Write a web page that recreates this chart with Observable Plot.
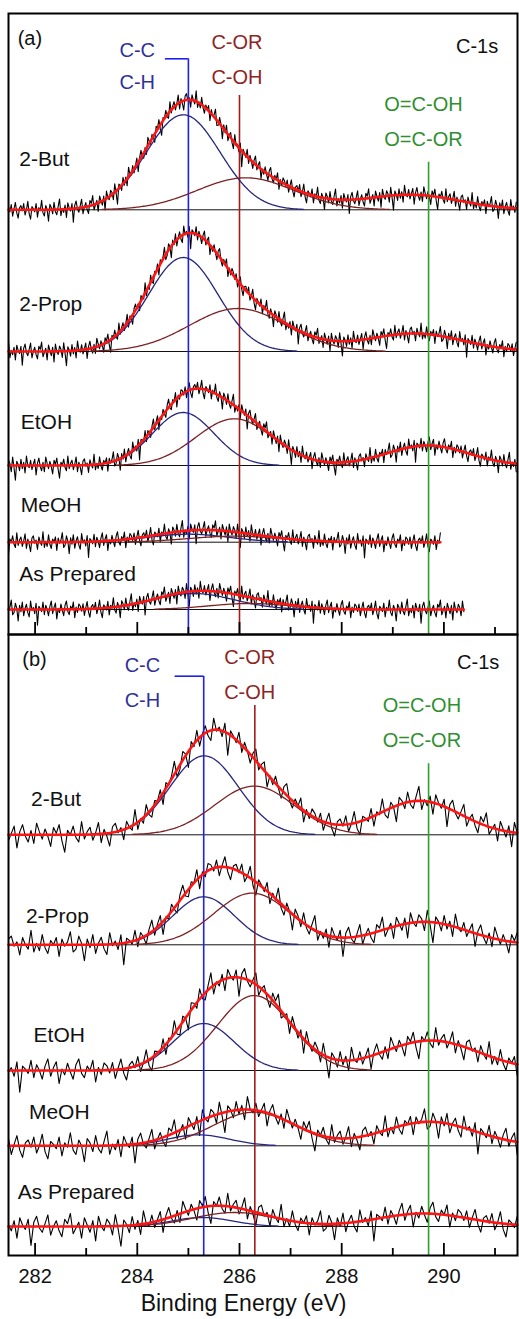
<!DOCTYPE html>
<html><head><meta charset="utf-8">
<script src="https://cdn.jsdelivr.net/npm/d3@7"></script>
<script src="https://cdn.jsdelivr.net/npm/@observablehq/plot@0.6"></script>
<style>
html,body{margin:0;padding:0;background:#fff;}
#chart svg{display:block;}
</style></head><body><div id="chart"></div>
<script>
// ---------------- data ----------------
const panels = ["a", "b"];
const samples = ["2-But", "2-Prop", "EtOH", "MeOH", "As Prepared"];
// fitted components: [centre (eV), height, sigma (eV)]
const ccA   = [[284.9, 95, 0.72], [284.9, 94, 0.68], [284.9, 53, 0.60], [285.0, 8, 0.80], [285.1, 16, 0.80]];
const corA  = [[286.12, 32, 0.95], [285.97, 43, 0.95], [285.9, 46.7, 0.75], [285.9, 6, 0.9], [286.2, 6, 0.8]];
const coohA = [[289.35, 15, 0.95], [289.42, 18, 0.95], [289.68, 20, 0.8], null, null];
const ccB   = [[285.31, 79, 0.67], [285.3, 48, 0.6], [285.3, 47, 0.6], [285.2, 11, 0.6], [285.27, 9, 0.6]];
const corB  = [[286.29, 48.7, 0.78], [286.25, 51.7, 0.75], [286.29, 75, 0.72], [286.29, 33.6, 0.8], [285.9, 14, 0.8]];
const coohB = [[289.52, 34, 0.8], [289.61, 23, 0.85], [289.74, 30, 0.95], [289.71, 24, 0.9], [289.6, 13, 0.9]];
const scanEndA = [291.44, 291.44, 291.44, 289.95, 290.4];
const scanEndB = [291.44, 291.44, 291.44, 291.44, 291.44];
// reference peak positions (eV): C-C/C-H, C-OR/C-OH, O=C-OH/O=C-OR
const refA = [285.0, 286.0, 289.7];
const refB = [285.3, 286.3, 289.7];
const groupNames = [["C-C", "C-H"], ["C-OR", "C-OH"], ["O=C-OH", "O=C-OR"]];
const panelTags = ["(a)", "(b)"];
const coreLevel = "C-1s";
// measurement scatter about the fit (counts, hand read)
const residuals = [
  3,-2,5,-6,1,7,-3,-8,2,4,-1,6,-5,0,8,-4,-9,3,1,-2,
  6,-7,2,-1,9,-3,-6,4,0,-11,5,2,-4,7,-2,-5,3,10,-6,1,
  -3,4,-8,6,1,-2,5,-13,3,7,-1,-4,2,8,-6,0,4,-3,-7,5,
  2,9,-5,-1,3,-8,6,1,-4,4,-10,7,0,-3,5,2,-6,8,-2,-14,
  4,1,-5,6,-3,3,-7,9,0,-2,5,-4,1,6,-9,2,7,-1,-5,3,
  -6,8,2,-3,4,-1,-8,5,1,7,-4,-12,3,0,6,-2,-5,9,-3,2,
  5,-4,1,8,-6,3,-2,-9,4,6,-1,2,-7,5,0,-3,10,-5,1,-4,
  7,-2,-6,3,0,5,-8,4,-1,2,9,-5,-3,6,1,-11,4,-2,7,-6,
  1,5,-3,-7,8,-1,2,-4,6,-15,3,1,-2,7,-5,4,0,-6,3,8,
  -4,2,6,-9,1,-3,5,-1,-6,4,8,-2,-5,3,0,7,-8,2,-3,5
];
const majorTicks = [282, 284, 286, 288, 290];
const minorTicks = [283, 285, 287, 289, 291];
const xLabel = "Binding Energy (eV)";

// ---------------- layout / style ----------------
const xDomain = [281.48, 291.44];
const layout = {
  a: {offsets: [424.7, 283, 169, 92.3, 25], lineTop: [575.7, 539, 472.3], bracketLeft: 284.55,
      tag: [281.66, 596], sampleX: [281.69, 281.69, 281.72, 281.72, 281.69], sampleY: [475, 330.7, 212.3, 129, 60.7],
      groupX: [284.0, 285.95, 289.6], groupY: [[584, 552.3], [592.3, 557.3], [530, 494.7]], core: [290.65, 588.3]},
  b: {offsets: [420.7, 310.7, 185, 109.7, 29], lineTop: [579.3, 550, 491.7], bracketLeft: 284.74,
      tag: [281.75, 595.7], sampleX: [281.92, 281.82, 281.97, 281.88, 281.66], sampleY: [456.7, 339, 220, 143.3, 63.3],
      groupX: [284.1, 286.2, 289.57], groupY: [[590, 555], [598.3, 563.3], [550, 515]], core: [290.67, 593.3]}
};
const refColors = ["#1f1ff0", "#a31c1c", "#2ea02e"];
const labelColors = ["#30309a", "#8e2424", "#2f8f2f"];
const compColors = {cc: "#26267f", cor: "#7d2222"};
const step = {a: 0.027, b: 0.055};
const noiseScale = {a: 1.05, b: 1.45};
const font = "'Liberation Sans', Arial, Helvetica, sans-serif";

// ---------------- build rows ----------------
const gauss = (E, p) => p ? p[1] * Math.exp(-((E - p[0]) ** 2) / (2 * p[2] * p[2])) : 0;
const comps = {a: [ccA, corA, coohA], b: [ccB, corB, coohB]};
const ends = {a: scanEndA, b: scanEndB};
const refs = {a: refA, b: refB};
const scan = [], fit = [], parts = [], base = [];
for (const p of panels) {
  samples.forEach((s, k) => {
    const off = layout[p].offsets[k];
    const [cc, cor, cooh] = comps[p].map(arr => arr[k]);
    const xs = d3.range(xDomain[0], ends[p][k] + 1e-9, step[p]);
    xs.forEach((E, i) => {
      const f = gauss(E, cc) + gauss(E, cor) + gauss(E, cooh);
      const r = residuals[(i + k * 37 + (p === "b" ? 91 : 0)) % residuals.length];
      scan.push({panel: p, key: p + k, E, y: off + f + noiseScale[p] * r});
      fit.push({panel: p, key: p + k, E, y: off + f});
      [["cc", cc], ["cor", cor]].forEach(([name, c]) => {
        const v = gauss(E, c);
        if (c && v > 0.4) parts.push({panel: p, key: p + k + name, comp: name, E, y: off + v});
      });
    });
    base.push({panel: p, y: off, x1: xDomain[0], x2: ends[p][k]});
  });
}
const refRows = panels.flatMap(p => refs[p].map((E, j) => ({panel: p, E, top: layout[p].lineTop[j], color: refColors[j]})));
const bracketRows = panels.map(p => ({panel: p, y: layout[p].lineTop[0], x1: layout[p].bracketLeft, x2: refs[p][0]}));
const startTexts = [], midTexts = [], sampleTexts = [];
panels.forEach((p, pi) => {
  const L = layout[p];
  startTexts.push({panel: p, x: L.tag[0], y: L.tag[1], text: panelTags[pi], color: "#111"});
  midTexts.push({panel: p, x: L.core[0], y: L.core[1], text: coreLevel, color: "#111"});
  samples.forEach((s, k) => sampleTexts.push({panel: p, x: L.sampleX[k], y: L.sampleY[k], text: s}));
  groupNames.forEach((g, j) => g.forEach((t, m) => midTexts.push({panel: p, x: L.groupX[j], y: L.groupY[j][m], text: t, color: labelColors[j]})));
});

const chart = Plot.plot({
  width: 519, height: 1319,
  marginLeft: 8, marginRight: 2, marginTop: 13, marginBottom: 64,
  style: {fontFamily: font, background: "white"},
  x: {domain: xDomain},
  y: {domain: [0, 621], axis: null},
  fy: {domain: panels, padding: 0, axis: null},
  color: {type: "identity"},
  marks: [
    Plot.ruleY(base, {fy: "panel", y: "y", x1: "x1", x2: "x2", stroke: "#111", strokeWidth: 1}),
    Plot.line(scan, {fy: "panel", x: "E", y: "y", z: "key", stroke: "#000", strokeWidth: 1.1}),
    Plot.ruleX(refRows, {fy: "panel", x: "E", y1: 0, y2: "top", stroke: "color", strokeWidth: 1.6}),
    Plot.ruleY(bracketRows, {fy: "panel", y: "y", x1: "x1", x2: "x2", stroke: refColors[0], strokeWidth: 1.6}),
    Plot.line(parts, {fy: "panel", x: "E", y: "y", z: "key", stroke: d => compColors[d.comp], strokeWidth: 1.3}),
    Plot.line(fit, {fy: "panel", x: "E", y: "y", z: "key", stroke: "#ff1414", strokeWidth: 2.6}),
    Plot.text(startTexts, {fy: "panel", x: "x", y: "y", text: "text", fill: "color", textAnchor: "start", fontSize: 20}),
    Plot.text(sampleTexts, {fy: "panel", x: "x", y: "y", text: "text", fill: "#111", textAnchor: "start", fontSize: 21}),
    Plot.text(midTexts, {fy: "panel", x: "x", y: "y", text: "text", fill: "color", textAnchor: "middle", fontSize: 20}),
    Plot.axisX(majorTicks, {anchor: "bottom", facetAnchor: null, tickSize: -12, tickFormat: () => "", label: null, strokeWidth: 1.8}),
    Plot.axisX(minorTicks, {anchor: "bottom", facetAnchor: null, tickSize: -7, tickFormat: () => "", label: null, strokeWidth: 1.8}),
    Plot.text(majorTicks, {x: d => d, text: d => String(d), fy: () => "b", frameAnchor: "bottom", lineAnchor: "bottom", dy: 27, fontSize: 20, fill: "#111"}),
    Plot.text([xLabel], {x: () => 286.08, text: d => d, fy: () => "b", frameAnchor: "bottom", lineAnchor: "bottom", dy: 55, fontSize: 23, fill: "#111"}),
    Plot.frame({stroke: "#000", strokeWidth: 2})
  ]
});
document.getElementById("chart").appendChild(chart);
</script>
</body></html>
